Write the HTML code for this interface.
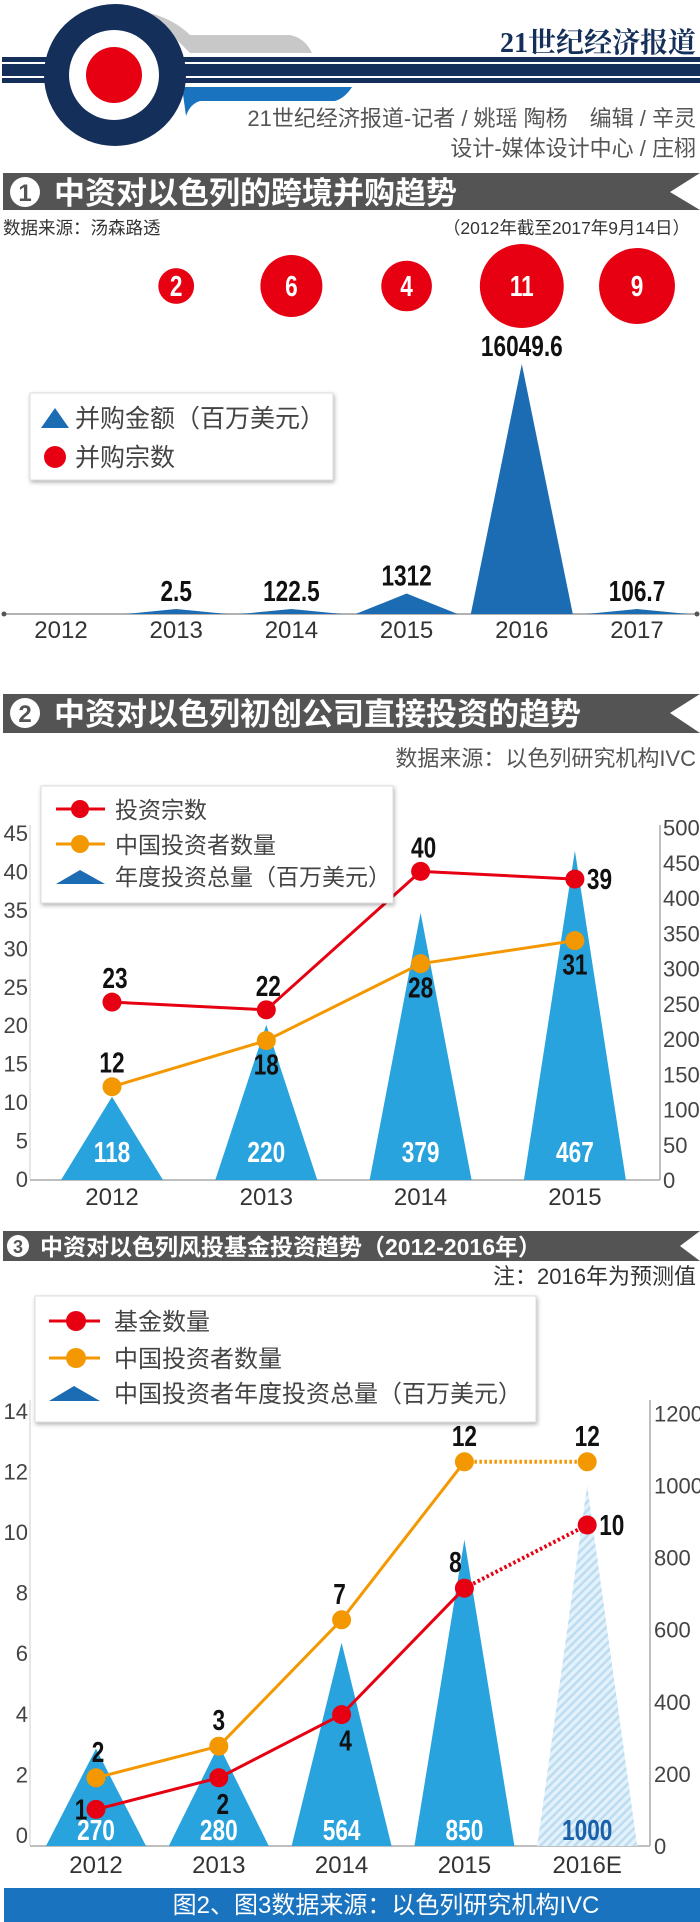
<!DOCTYPE html>
<html><head><meta charset="utf-8">
<style>
html,body{margin:0;padding:0;background:#fff;}
svg{display:block;}
.cn{font-family:"Liberation Sans","Noto Sans CJK SC",sans-serif;}
.num{font-family:"Liberation Sans Narrow","Liberation Sans",sans-serif;font-weight:bold;}
</style></head>
<body>
<svg id="page" width="700" height="1922" viewBox="0 0 700 1922" xmlns="http://www.w3.org/2000/svg">
<defs>
<pattern id="hatch" width="6" height="6" patternUnits="userSpaceOnUse" patternTransform="rotate(-45)">
<rect width="6" height="6" fill="#e3f1fa"/><rect width="6" height="2.5" fill="#bcdcf1"/>
</pattern>
<filter id="sh" x="-5%" y="-10%" width="110%" height="130%"><feDropShadow dx="1" dy="2" stdDeviation="2" flood-color="#000" flood-opacity="0.3"/></filter>
</defs>

<g>
<path d="M150,13 Q175,20 190,35 L290,35 Q305,38 312,53 L190,53 Z" fill="#c8c8c8"/>
<path d="M182,87 L352,87 Q345,98 335,101 L200,101 Q190,104 186,116 Z" fill="#1a73be"/>
<rect x="2" y="57" width="698" height="26" fill="#14305a"/>
<rect x="2" y="62" width="698" height="2" fill="#fff"/>
<rect x="2" y="76" width="698" height="2" fill="#fff"/>
<circle cx="115" cy="75" r="71" fill="#14305a"/>
<circle cx="114" cy="75" r="45" fill="#fff"/>
<circle cx="114" cy="75" r="28" fill="#e60012"/>
<text x="696" y="52" text-anchor="end" font-family="'Liberation Serif','Noto Serif CJK SC',serif" font-weight="bold" font-size="28" fill="#14305a">21世纪经济报道</text>
<text x="696" y="126" text-anchor="end" class="cn" font-size="22" fill="#555">21世纪经济报道-记者 / 姚瑶 陶杨　编辑 / 辛灵</text>
<text x="696" y="156" text-anchor="end" class="cn" font-size="22" fill="#555">设计-媒体设计中心 / 庄栩</text>
</g>

<g>
<polygon points="3,173 700,173 670,192 700,210 3,210" fill="#545454"/>
<circle cx="25" cy="192" r="15" fill="#fff"/>
<text x="25" y="201" text-anchor="middle" class="cn" font-weight="bold" font-size="24" fill="#545454">1</text>
<text x="54" y="204" class="cn" font-weight="bold" font-size="31" fill="#fff">中资对以色列的跨境并购趋势</text>
</g>
<text x="3" y="234" class="cn" font-size="17.5" fill="#333">数据来源：汤森路透</text>
<text x="690" y="234" text-anchor="end" class="cn" font-size="17.5" fill="#333">（2012年截至2017年9月14日）</text>
<g id="c1"></g>
<g filter="url(#sh)">
<rect x="30" y="393" width="303" height="87" fill="#fff" stroke="#ddd"/>
</g>
<polygon points="41,428 55,408 69,428" fill="#1c6cb4"/>
<text x="75" y="427" class="cn" font-size="25" fill="#444">并购金额（百万美元）</text>
<circle cx="55" cy="457" r="11" fill="#e60012"/>
<text x="75" y="466" class="cn" font-size="25" fill="#444">并购宗数</text>

<g>
<polygon points="3,694 700,694 670,713 700,733 3,733" fill="#545454"/>
<circle cx="25" cy="713" r="15" fill="#fff"/>
<text x="25" y="722" text-anchor="middle" class="cn" font-weight="bold" font-size="24" fill="#545454">2</text>
<text x="54" y="725" class="cn" font-weight="bold" font-size="31" fill="#fff">中资对以色列初创公司直接投资的趋势</text>
</g>
<text x="696" y="766" text-anchor="end" class="cn" font-size="22" fill="#555">数据来源：以色列研究机构IVC</text>
<g id="c2"></g>
<g>
<rect x="41" y="786" width="352" height="117" fill="#fff" stroke="#ddd" filter="url(#sh)"/>
<line x1="56" y1="809" x2="105" y2="809" stroke="#e60012" stroke-width="3"/>
<circle cx="80" cy="809" r="9" fill="#e60012"/>
<text x="115" y="818" class="cn" font-size="23" fill="#444">投资宗数</text>
<line x1="56" y1="844" x2="105" y2="844" stroke="#f39800" stroke-width="3"/>
<circle cx="80" cy="844" r="9" fill="#f39800"/>
<text x="115" y="853" class="cn" font-size="23" fill="#444">中国投资者数量</text>
<polygon points="56,884 80,870 105,884" fill="#1c6cb4"/>
<text x="115" y="885" class="cn" font-size="23" fill="#444">年度投资总量（百万美元）</text>
</g>

<g>
<polygon points="3,1231 700,1231 680,1246 700,1261 3,1261" fill="#545454"/>
<circle cx="18" cy="1246" r="11" fill="#fff"/>
<text x="18" y="1253" text-anchor="middle" class="cn" font-weight="bold" font-size="18" fill="#545454">3</text>
<text x="40" y="1255" class="cn" font-weight="bold" font-size="23" fill="#fff">中资对以色列风投基金投资趋势（2012-2016年）</text>
</g>
<text x="696" y="1284" text-anchor="end" class="cn" font-size="22" fill="#333">注：2016年为预测值</text>
<g id="c3"></g>
<g>
<rect x="35" y="1296" width="501" height="126" fill="#fff" stroke="#ddd" filter="url(#sh)"/>
<line x1="49" y1="1321" x2="100" y2="1321" stroke="#e60012" stroke-width="3"/>
<circle cx="76" cy="1321" r="10" fill="#e60012"/>
<text x="114" y="1330" class="cn" font-size="24" fill="#444">基金数量</text>
<line x1="49" y1="1358" x2="100" y2="1358" stroke="#f39800" stroke-width="3"/>
<circle cx="76" cy="1358" r="10" fill="#f39800"/>
<text x="114" y="1367" class="cn" font-size="24" fill="#444">中国投资者数量</text>
<polygon points="49,1401 74,1386 100,1401" fill="#1c6cb4"/>
<text x="114" y="1402" class="cn" font-size="24" fill="#444">中国投资者年度投资总量（百万美元）</text>
</g>

<rect x="4" y="1888" width="696" height="34" fill="#1a73be"/>
<text x="386" y="1913" text-anchor="middle" class="cn" font-size="24" fill="#fff">图2、图3数据来源：以色列研究机构IVC</text>
</svg>

<script>
const c1Years = ['2012','2013','2014','2015','2016','2017'];
const c1Amount = [null, 2.5, 122.5, 1312, 16049.6, 106.7];
const c1AmountLabels = ['', '2.5', '122.5', '1312', '16049.6', '106.7'];
const c1Count = [null, 2, 6, 4, 11, 9];

const c2Years = ['2012','2013','2014','2015'];
const c2Deals = [23, 22, 40, 39];
const c2Investors = [12, 18, 28, 31];
const c2Total = [118, 220, 379, 467];
const c2LeftTicks = [0,5,10,15,20,25,30,35,40,45];
const c2RightTicks = [0,50,100,150,200,250,300,350,400,450,500];

const c3Years = ['2012','2013','2014','2015','2016E'];
const c3Funds = [1, 2, 4, 8, 10];
const c3Investors = [2, 3, 7, 12, 12];
const c3Total = [270, 280, 564, 850, 1000];
const c3LeftTicks = [0,2,4,6,8,10,12,14];
const c3RightTicks = [0,200,400,600,800,1000,1200];

const NS = 'http://www.w3.org/2000/svg';
function mk(parent, tag, attrs, txt){
  const e = document.createElementNS(NS, tag);
  for (const k in attrs) e.setAttribute(k, attrs[k]);
  if (txt !== undefined) e.textContent = txt;
  parent.appendChild(e);
  return e;
}
function lbl(g, x, y, t, name, fill, anchor, size){
  const e = mk(g,'text',{x:0,y:0,transform:`translate(${x},${y}) scale(0.78,1)`,'text-anchor':anchor||'middle','class':'num','font-size':size||29,fill:fill||'#111'},t);
  
  
  return e;
}

(function(){
  const g = document.getElementById('c1');
  const x = i => 61 + i * 115.2;
  const base = 614;
  const h = v => Math.max(5, v * 0.01558);
  const r = n => 12.65 * Math.sqrt(n);
  let e = mk(g,'line',{x1:3,y1:base,x2:698,y2:base,stroke:'#999','stroke-width':1.5});
  
  
  mk(g,'circle',{cx:4,cy:base,r:2.5,fill:'#555'});
  mk(g,'circle',{cx:697,cy:base,r:2.5,fill:'#555'});
  c1Years.forEach((yr,i)=>{
    const cx = x(i);
    if (c1Amount[i] !== null){
      const top = base - h(c1Amount[i]);
      e = mk(g,'polygon',{points:`${cx-51},${base} ${cx},${top} ${cx+51},${base}`,fill:'#1c6cb4'});
      
      
      lbl(g,cx,Math.min(top-8,603),c1AmountLabels[i],'amount-label-'+yr);
    }
    if (c1Count[i] !== null){
      e = mk(g,'circle',{cx:cx,cy:286,r:r(c1Count[i]),fill:'#e60012'});
      
      
      lbl(g,cx,296,String(c1Count[i]),'count-label-'+yr,'#fff');
    }
    e = mk(g,'text',{x:cx,y:638,'text-anchor':'middle','class':'cn','font-size':24,fill:'#333'},yr);
    
    
  });
})();

function lineSeries(g, xs, ys, color, name, dottedFrom){
  for (let i=0;i<xs.length-1;i++){
    const dotted = dottedFrom !== undefined && i >= dottedFrom;
    const e = mk(g,'line',{x1:xs[i],y1:ys[i],x2:xs[i+1],y2:ys[i+1],stroke:color,'stroke-width':dotted?4:3});
    if (dotted) e.setAttribute('stroke-dasharray','2.5 2.5');
    
    
  }
  xs.forEach((xv,i)=>{
    const e = mk(g,'circle',{cx:xv,cy:ys[i],r:9.5,fill:color});
    
    
  });
}

(function(){
  const g = document.getElementById('c2');
  const x = i => 112 + i * 154.3;
  const yL = v => 1179 - v * 7.69;
  const yR = v => 1180 - v * 0.705;
  let e = mk(g,'line',{x1:30,y1:1180,x2:660,y2:1180,stroke:'#aaa','stroke-width':1.5});
  
  
  e = mk(g,'line',{x1:30,y1:825,x2:30,y2:1180,stroke:'#ccc','stroke-width':1});
  
  
  e = mk(g,'line',{x1:660,y1:825,x2:660,y2:1180,stroke:'#aaa','stroke-width':1.5});
  
  
  c2LeftTicks.forEach(v=>{
    const t = mk(g,'text',{x:28,y:yL(v)+8,'text-anchor':'end','class':'cn','font-size':22,fill:'#444'},String(v));
    
    
  });
  c2RightTicks.forEach(v=>{
    const t = mk(g,'text',{x:663,y:yR(v)+8,'class':'cn','font-size':22,fill:'#444'},String(v));
    
    
  });
  c2Years.forEach((yr,i)=>{
    const cx = x(i), top = yR(c2Total[i]);
    e = mk(g,'polygon',{points:`${cx-51},1180 ${cx},${top} ${cx+51},1180`,fill:'#29a3de'});
    
    
    lbl(g,cx,1162,String(c2Total[i]),'total-label-'+yr,'#fff');
    e = mk(g,'text',{x:cx,y:1205,'text-anchor':'middle','class':'cn','font-size':24,fill:'#333'},yr);
    
    
  });
  const xs = c2Years.map((_,i)=>x(i));
  lineSeries(g, xs, c2Investors.map(yL), '#f39800', 'investors');
  lineSeries(g, xs, c2Deals.map(yL), '#e60012', 'deals');
  c2Deals.forEach((v,i)=>{
    if (i===3) lbl(g,xs[i]+12,yL(v)+10,String(v),'deals-label','#111','start');
    else lbl(g,xs[i]+(i===1?2:3),yL(v)-14,String(v),'deals-label');
  });
  c2Investors.forEach((v,i)=>{
    if (i===0) lbl(g,xs[i],yL(v)-14,String(v),'investors-label');
    else lbl(g,xs[i],yL(v)+34,String(v),'investors-label');
  });
})();

(function(){
  const g = document.getElementById('c3');
  const x = i => 96 + i * 122.8;
  const yL = v => 1841 - v * 31.6;
  const yTickL = v => 1835 - v * 30.3;
  const yR = v => 1846 - v * 0.3605;
  let e = mk(g,'line',{x1:30,y1:1846,x2:650,y2:1846,stroke:'#aaa','stroke-width':1.5});
  
  
  e = mk(g,'line',{x1:30,y1:1400,x2:30,y2:1846,stroke:'#ccc','stroke-width':1});
  
  
  e = mk(g,'line',{x1:650,y1:1400,x2:650,y2:1846,stroke:'#aaa','stroke-width':1.5});
  
  
  c3LeftTicks.forEach(v=>{
    const t = mk(g,'text',{x:28,y:yTickL(v)+8,'text-anchor':'end','class':'cn','font-size':22,fill:'#444'},String(v));
    
    
  });
  c3RightTicks.forEach(v=>{
    const t = mk(g,'text',{x:654,y:yR(v)+8,'class':'cn','font-size':22,fill:'#444'},String(v));
    
    
  });
  c3Years.forEach((yr,i)=>{
    const cx = x(i), top = yR(c3Total[i]);
    const est = i === c3Years.length-1;
    e = mk(g,'polygon',{points:`${cx-50},1846 ${cx},${top} ${cx+50},1846`,fill:est?'url(#hatch)':'#29a3de'});
    
    
    lbl(g,cx,1840,String(c3Total[i]),'total-label-'+yr,est?'#1a5fa8':'#fff');
    e = mk(g,'text',{x:cx,y:1873,'text-anchor':'middle','class':'cn','font-size':24,fill:'#333'},yr);
    
    
  });
  const xs = c3Years.map((_,i)=>x(i));
  lineSeries(g, xs, c3Investors.map(yL), '#f39800', 'investors-3', 3);
  lineSeries(g, xs, c3Funds.map(yL), '#e60012', 'funds', 3);
  c3Investors.forEach((v,i)=>{ lbl(g,xs[i]+(i===0?2:(i===2?-2:0)),yL(v)-16,String(v),'investors-3-label'); });
  c3Funds.forEach((v,i)=>{
    if (i===0) lbl(g,xs[i]-15,yL(v)+10,String(v),'funds-label');
    else if (i===1||i===2) lbl(g,xs[i]+4,yL(v)+36,String(v),'funds-label');
    else if (i===3) lbl(g,xs[i]-9,yL(v)-16,String(v),'funds-label');
    else lbl(g,xs[i]+12,yL(v)+10,String(v),'funds-label','#111','start');
  });
})();
</script>
</body></html>
